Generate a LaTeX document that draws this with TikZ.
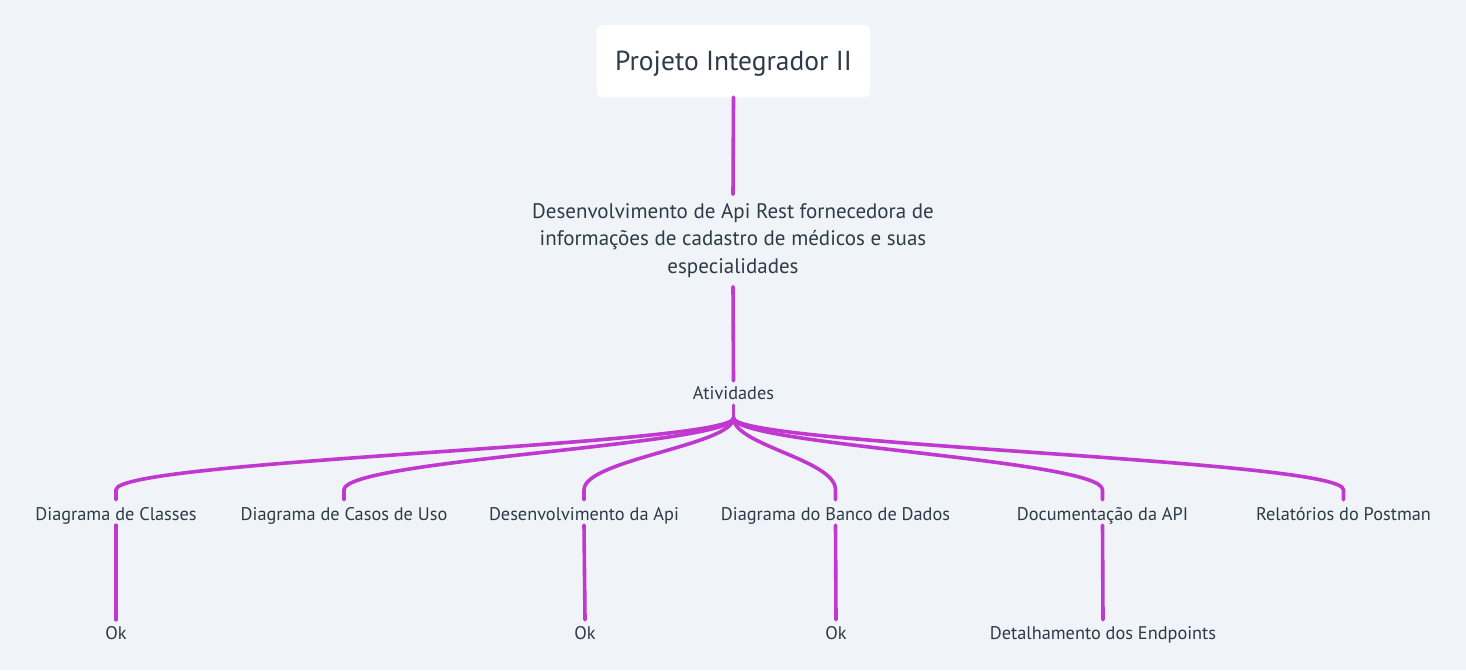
\documentclass[tikz,border=0pt]{standalone}
\usepackage{fontspec}
\setmainfont{PT Sans}
\usetikzlibrary{calc}
\definecolor{bgc}{HTML}{F0F4F8}
\definecolor{linec}{HTML}{C038CF}
\definecolor{txt}{HTML}{2E3A48}
\tikzset{
  conn/.style={draw=linec, line width=3.6pt, line cap=round},
  lbl/.style={text=txt, font=\fontsize{18.3}{22}\selectfont, inner xsep=0pt, inner ysep=0pt, text height=20pt, text depth=5pt, anchor=center},
  rootbox/.style={fill=white, rounded corners=5pt, text=txt, font=\fontsize{27.5}{32}\selectfont, minimum width=273pt, minimum height=72pt, inner sep=0pt, text height=19.3pt, text depth=0pt},
  descbox/.style={text=txt, font=\fontsize{21}{27.5}\selectfont, align=center, minimum height=92pt, inner sep=0pt},
}
\begin{document}
\begin{tikzpicture}[x=1pt,y=-1pt]
\useasboundingbox[fill=bgc] (0,0) rectangle (1466,670);
\fill[black!4, rounded corners=6pt] (596,25.5) rectangle (871,98.5);
\node[rootbox] (root) at (733.5,61) {Projeto Integrador II};
\node[descbox] (desc) at (733,240.5) {Desenvolvimento de Api Rest fornecedora de\\informações de cadastro de médicos e suas\\especialidades};
\node[lbl, text height=18pt, text depth=6pt] (act) at (733.5,393) {Atividades};
\coordinate (hub) at (733.5,418);
\node[lbl] (c1) at (116,512.5) {Diagrama de Classes};
\node[lbl] (c2) at (344,512.5) {Diagrama de Casos de Uso};
\node[lbl] (c3) at (584,512.5) {Desenvolvimento da Api};
\node[lbl] (c4) at (835.5,512.5) {Diagrama do Banco de Dados};
\node[lbl] (c5) at (1102.5,512.5) {Documentação da API};
\node[lbl] (c6) at (1343.5,512.5) {Relatórios do Postman};
\node[lbl, text height=19pt, text depth=6pt] (l1) at (116,632.5) {Ok};
\node[lbl, text height=19pt, text depth=6pt] (l3) at (585,632.5) {Ok};
\node[lbl, text height=19pt, text depth=6pt] (l4) at (836,632.5) {Ok};
\node[lbl, text height=19pt, text depth=6pt] (l5) at (1103,632.5) {Detalhamento dos Endpoints};
\draw[conn] (root.south) -- (desc.north);
\draw[conn] (desc.south) -- (act.north);
\draw[conn] (act.south) -- (hub);
\foreach \c in {c1,c2,c3,c4,c5,c6}{
  \draw[conn] (hub) .. controls (733.5,445) and ([yshift=40pt]\c.north) .. ([yshift=10pt]\c.north) -- (\c.north);
}
\draw[conn] (c1.south) -- (l1.north);
\draw[conn] (c3.south) -- (l3.north);
\draw[conn] (c4.south) -- (l4.north);
\draw[conn] (c5.south) -- (l5.north);
\end{tikzpicture}
\end{document}
